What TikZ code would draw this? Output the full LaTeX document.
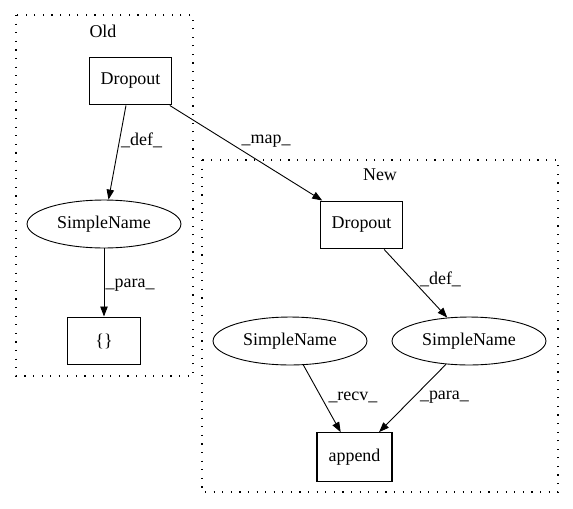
\documentclass[tikz,border=0pt]{standalone}
\usepackage{fontspec}
\setmainfont{Liberation Serif}
\usetikzlibrary{shapes.geometric,arrows.meta}

\begin{document}
\begin{tikzpicture}[x=0.78pt,y=-0.78pt,font=\fontsize{14}{17}\selectfont,
        box/.style={draw,rectangle,line width=0.8pt,minimum height=37.4pt,inner sep=2pt},
        oval/.style={draw,ellipse,line width=0.7pt,minimum width=120pt,minimum height=37.4pt,inner sep=1pt},
        cluster/.style={draw,line width=0.8pt,dash pattern=on 0.9pt off 5.8pt},
        edge/.style={-{Triangle[length=7.8pt,width=5.8pt]},line width=0.7pt},
        lbl/.style={inner sep=1pt,anchor=west}]
        \useasboundingbox (0,0) rectangle (573,508);
        % clusters
        \draw[cluster] (16,15) rectangle (193,376);
        \node (oldlbl) at (103,31) {Old};
        \draw[cluster] (202,160) rectangle (558,492);
        \node (newlbl) at (380,175) {New};
        % old side
        \node[box,minimum width=64.7pt] (olddrop) at (130.5,81) {Dropout};
        \node[oval] (oldname) at (104,224) {SimpleName};
        \node[box,minimum width=56.2pt] (braces) at (104,341) {\{\}};
        % new side
        \node[box,minimum width=64.7pt] (newdrop) at (361.5,225) {Dropout};
        \node[oval] (recvname) at (290,341) {SimpleName};
        \node[oval] (paraname) at (469,341) {SimpleName};
        \node[box,minimum width=58.5pt,minimum height=38pt] (append) at (354.5,457) {append};
        % edges
        \draw[edge] (olddrop) -- (oldname) node[lbl,pos=0.37] {\_def\_};
        \draw[edge] (oldname) -- (braces) node[lbl,pos=0.54] {\_para\_};
        \draw[edge] (olddrop) -- (newdrop) node[lbl,pos=0.46,anchor=south west] {\_map\_};
        \draw[edge] (newdrop) -- (paraname) node[lbl,pos=0.44,xshift=5pt] {\_def\_};
        \draw[edge] (recvname) -- (append) node[lbl,pos=0.49,xshift=4pt] {\_recv\_};
        \draw[edge] (paraname) -- (append) node[lbl,pos=0.49,xshift=4pt] {\_para\_};
\end{tikzpicture}
\end{document}
